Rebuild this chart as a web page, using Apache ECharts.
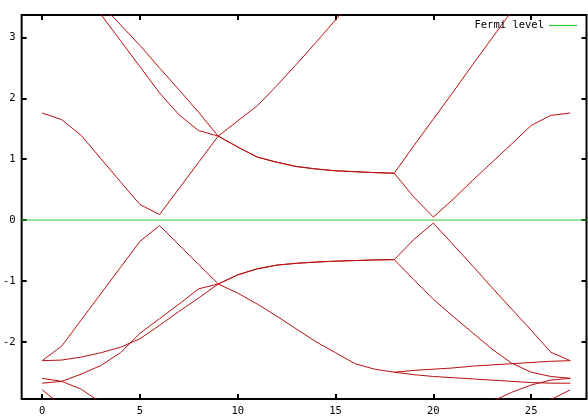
<!DOCTYPE html>
<html><head><meta charset="utf-8">
<script src="https://cdn.jsdelivr.net/npm/echarts@6/dist/echarts.min.js"></script>
<style>html,body{margin:0;padding:0;background:#fff}#c{width:588px;height:419px}</style>
</head><body><div id="c"></div>
<script>
// k-point index along the path
const kpts = [0,1,2,3,4,5,6,7,8,9,10,11,12,13,14,15,16,17,18,19,20,21,22,23,24,25,26,27];

// Valence bands (eV, relative to Fermi level); null = not drawn
const band1 = [-2.31,-2.07,-1.64,-1.21,-0.78,-0.35,-0.09,-0.41,-0.73,-1.05,-1.20,-1.38,-1.58,-1.79,-2.00,-2.18,-2.36,-2.45,-2.50,-2.47,-2.45,-2.43,-2.40,-2.38,-2.36,-2.34,-2.32,-2.31];
const band2 = [-2.31,-2.30,-2.25,-2.18,-2.09,-1.95,-1.73,-1.50,-1.28,-1.05,-0.90,-0.80,-0.74,-0.71,-0.69,-0.675,-0.665,-0.655,-0.65,-0.32,-0.05,-0.40,-0.75,-1.11,-1.46,-1.81,-2.17,-2.31];
const band3 = [-2.68,-2.65,-2.53,-2.39,-2.18,-1.86,-1.62,-1.38,-1.13,-1.05,-0.90,-0.80,-0.74,-0.71,-0.69,-0.675,-0.665,-0.655,-0.65,-0.98,-1.30,-1.58,-1.85,-2.12,-2.35,-2.50,-2.57,-2.60];
const band4 = [-2.60,-2.65,-2.78,-3.00,null,null,null,null,null,null,null,null,null,null,null,null,null,null,-2.50,-2.54,-2.57,-2.59,-2.61,-2.63,-2.65,-2.67,-2.68,-2.68];
const band5 = [-2.79,-3.05,null,null,null,null,null,null,null,null,null,null,null,null,null,null,null,null,null,null,null,null,-3.13,-2.98,-2.83,-2.71,-2.63,-2.60];
const band6 = [null,null,null,null,null,null,null,null,null,null,null,null,null,null,null,null,null,null,null,null,null,null,null,null,null,null,-2.95,-2.79];

// Conduction bands
const band7 = [1.76,1.65,1.39,1.01,0.63,0.256,0.09,0.52,0.95,1.38,1.63,1.88,2.21,2.56,2.92,3.29,3.65,null,null,null,null,null,null,null,null,null,null,null];
const band8 = [null,null,3.80,3.38,2.95,2.52,2.09,1.73,1.47,1.38,1.20,1.035,0.95,0.88,0.84,0.81,0.795,0.78,0.77,0.38,0.05,0.34,0.65,0.95,1.25,1.555,1.72,1.76];
const band9 = [null,null,null,3.55,3.21,2.87,2.50,2.14,1.77,1.38,1.20,1.035,0.95,0.88,0.84,0.81,0.795,0.78,0.77,1.22,1.66,2.10,2.55,2.99,3.43,null,null,null];

const bands = [band1,band2,band3,band4,band5,band6,band7,band8,band9];

// Axis settings
const xRange = [-1.05, 27.83];
const yRange = [-2.94, 3.37];
const xTicks = [0,5,10,15,20,25];
const yTicks = [-2,-1,0,1,2,3];
const fermiLevel = 0;
const fermiName = 'Fermi level';

const FONT = 'DejaVu Sans Mono';
const RED = '#b81010';
const GREEN = '#2fc82f';

const toData = arr => kpts.map((k,i) => [k, arr[i] === null ? '-' : arr[i]]);

const tickStyle = {show:true, inside:true, length:5, lineStyle:{color:'#000', width:2}};
const labelStyle = {fontFamily:FONT, fontSize:10.5, color:'#000'};
const noLine = {show:false, onZero:false};

const series = bands.map(b => ({
  type:'line', data: toData(b), symbol:'none', silent:true, connectNulls:false,
  lineStyle:{color:RED, width:1}, itemStyle:{color:RED}, clip:true
}));
series.push({
  name: fermiName, type:'line', data: [[xRange[0], fermiLevel],[xRange[1], fermiLevel]],
  symbol:'none', silent:true, lineStyle:{color:GREEN, width:1}, itemStyle:{color:GREEN}
});

const chart = echarts.init(document.getElementById('c'), null, {renderer:'canvas'});
chart.setOption({
  animation:false,
  backgroundColor:'#fff',
  grid:{left:21, top:15, right:1.5, bottom:20, show:true, borderColor:'#000', borderWidth:2, backgroundColor:'transparent'},
  legend:{data:[fermiName], right:11, top:20, align:'right', icon:'rect', itemWidth:28, itemHeight:1.2,
    padding:0, textStyle:{fontFamily:FONT, fontSize:10.5, color:'#000'}},
  xAxis:[
    {type:'value', min:xRange[0], max:xRange[1], position:'bottom', axisLine:noLine, splitLine:{show:false},
     axisTick:Object.assign({customValues:xTicks}, tickStyle),
     axisLabel:Object.assign({customValues:xTicks, margin:7}, labelStyle)},
    {type:'value', min:xRange[0], max:xRange[1], position:'top', axisLine:noLine, splitLine:{show:false},
     axisTick:Object.assign({customValues:xTicks}, tickStyle), axisLabel:{show:false}}
  ],
  yAxis:[
    {type:'value', min:yRange[0], max:yRange[1], position:'left', axisLine:noLine, splitLine:{show:false},
     axisTick:Object.assign({customValues:yTicks}, tickStyle),
     axisLabel:Object.assign({customValues:yTicks, margin:6}, labelStyle)},
    {type:'value', min:yRange[0], max:yRange[1], position:'right', axisLine:noLine, splitLine:{show:false},
     axisTick:Object.assign({customValues:yTicks}, tickStyle), axisLabel:{show:false}}
  ],
  series: series
});
</script></body></html>
